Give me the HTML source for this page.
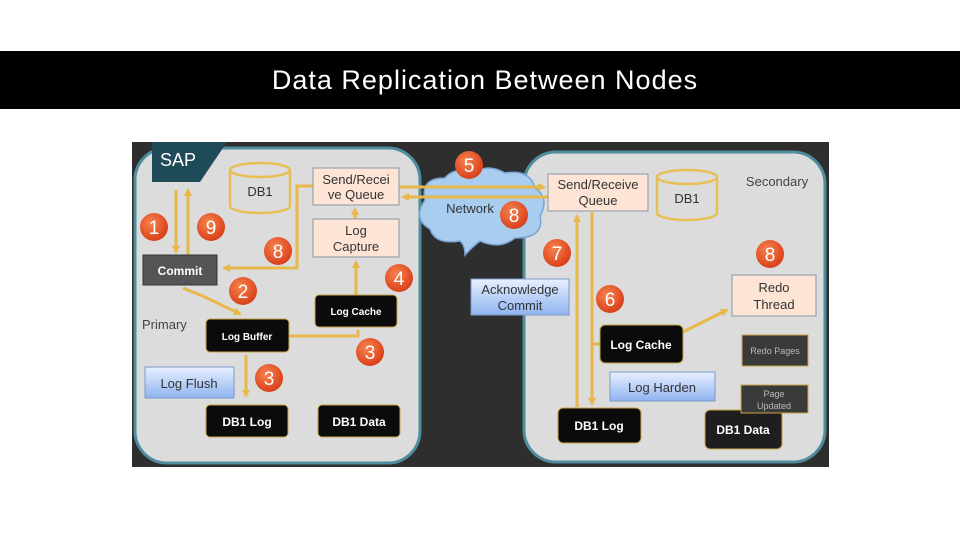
<!DOCTYPE html>
<html><head><meta charset="utf-8"><style>
body{margin:0;width:960px;height:540px;background:#fff;overflow:hidden;font-family:"Liberation Sans",sans-serif}
</style></head><body>
<svg width="960" height="540" xmlns="http://www.w3.org/2000/svg" style="position:absolute;left:0;top:0">
<defs>
<radialGradient id="o" cx="40%" cy="35%" r="65%"><stop offset="0" stop-color="#f7834f"/><stop offset="1" stop-color="#d9401b"/></radialGradient>
<linearGradient id="b" x1="0" y1="0" x2="0" y2="1"><stop offset="0" stop-color="#e8f0ff"/><stop offset="1" stop-color="#8fb4f0"/></linearGradient>
<marker id="a" markerWidth="8" markerHeight="8" refX="6" refY="4" orient="auto" markerUnits="userSpaceOnUse"><path d="M0,0 L8,4 L0,8 z" fill="#e8b84a"/></marker>
</defs>
<rect x="0" y="51" width="960" height="58" fill="#000"/>
<text x="485" y="89" fill="#fff" font-size="27" letter-spacing="1" text-anchor="middle">Data Replication Between Nodes</text>
<rect x="132" y="142" width="697" height="325" fill="#2e2e2e"/>
<rect x="135" y="148" width="285" height="315" rx="32" fill="#dcdcdc" stroke="#4f8c9c" stroke-width="3"/>
<rect x="524" y="152" width="301" height="310" rx="32" fill="#dcdcdc" stroke="#4f8c9c" stroke-width="3"/>
<polygon points="152,142 227,142 200,182 152,182" fill="#1f4a58"/>
<text x="160" y="166" fill="#fff" font-size="18">SAP</text>
<g fill="none" stroke="#e8bf55" stroke-width="2.5">
<path d="M230,170 v36 a30,7 0 0 0 60,0 v-36"/><ellipse cx="260" cy="170" rx="30" ry="7"/>
<path d="M657,177 v36 a30,7 0 0 0 60,0 v-36"/><ellipse cx="687" cy="177" rx="30" ry="7"/>
</g>
<text x="260" y="196" font-size="13" text-anchor="middle" fill="#333">DB1</text>
<text x="687" y="203" font-size="13" text-anchor="middle" fill="#333">DB1</text>
<path d="M425,200 q-5,-22 20,-22 q10,-12 28,-5 q15,-10 32,0 q25,-4 30,15 q15,10 5,28 q5,22 -25,22 q-15,12 -35,3 q-8,6 -15,14 q0,-10 -5,-14 q-25,4 -30,-12 q-18,-10 -5,-29z" fill="#a9cdef" stroke="#7aa6d4" stroke-width="1.5"/>
<text x="470" y="213" font-size="13" text-anchor="middle" fill="#333">Network</text>
<g stroke="#e8b84a" stroke-width="3" fill="none">
<line x1="176" y1="190" x2="176" y2="252" marker-end="url(#a)"/>
<line x1="188" y1="255" x2="188" y2="190" marker-end="url(#a)"/>
<polyline points="313,186 297,186 297,268 224,268" marker-end="url(#a)"/>
<polyline points="183,288 205,297 240,314" marker-end="url(#a)"/>
<polyline points="289,336 358,336 358,330"/>
<line x1="356" y1="295" x2="356" y2="262" marker-end="url(#a)"/>
<line x1="355" y1="219" x2="355" y2="209" marker-end="url(#a)"/>
<line x1="246" y1="355" x2="246" y2="396" marker-end="url(#a)"/>
<line x1="399" y1="187" x2="544" y2="187" marker-end="url(#a)"/>
<line x1="548" y1="197" x2="403" y2="197" marker-end="url(#a)"/>
<line x1="577" y1="407" x2="577" y2="216" marker-end="url(#a)"/>
<line x1="592" y1="212" x2="592" y2="404" marker-end="url(#a)"/>
<line x1="592" y1="344" x2="600" y2="344"/>
<line x1="683" y1="332" x2="727" y2="310" marker-end="url(#a)"/>
</g>
<g font-size="13" text-anchor="middle" fill="#333">
<rect x="313" y="168" width="86" height="37" fill="#fde4d4" stroke="#8899aa"/>
<text x="356" y="184">Send/Recei</text><text x="356" y="199">ve Queue</text>
<rect x="313" y="219" width="86" height="38" fill="#fde4d4" stroke="#8899aa"/>
<text x="356" y="235">Log</text><text x="356" y="251">Capture</text>
<rect x="548" y="174" width="100" height="37" fill="#fde4d4" stroke="#8899aa"/>
<text x="598" y="189">Send/Receive</text><text x="598" y="205">Queue</text>
<rect x="732" y="275" width="84" height="41" fill="#fde4d4" stroke="#8899aa"/>
<text x="774" y="292">Redo</text><text x="774" y="309">Thread</text>
<rect x="471" y="279" width="98" height="36" fill="url(#b)" stroke="#7a9ac8"/>
<text x="520" y="294">Acknowledge</text><text x="520" y="310">Commit</text>
<rect x="145" y="367" width="89" height="31" fill="url(#b)" stroke="#7a9ac8"/>
<text x="189" y="388">Log Flush</text>
<rect x="610" y="372" width="105" height="29" fill="url(#b)" stroke="#7a9ac8"/>
<text x="662" y="392">Log Harden</text>
<text x="142" y="329" text-anchor="start" fill="#444">Primary</text>
<text x="777" y="186" fill="#444">Secondary</text>
</g>
<g font-weight="bold" text-anchor="middle" fill="#fff" font-size="12">
<rect x="143" y="255" width="74" height="30" fill="#555" stroke="#333"/><text x="180" y="275">Commit</text>
<rect x="206" y="319" width="83" height="33" rx="4" fill="#0b0b0b" stroke="#c9a54a"/><text x="247" y="340" font-size="10">Log Buffer</text>
<rect x="315" y="295" width="82" height="32" rx="4" fill="#0b0b0b" stroke="#c9a54a"/><text x="356" y="315" font-size="10">Log Cache</text>
<rect x="206" y="405" width="82" height="32" rx="4" fill="#0b0b0b" stroke="#c9a54a"/><text x="247" y="426">DB1 Log</text>
<rect x="318" y="405" width="82" height="32" rx="4" fill="#0b0b0b" stroke="#c9a54a"/><text x="359" y="426">DB1 Data</text>
<rect x="600" y="325" width="83" height="38" rx="5" fill="#0b0b0b" stroke="#c9a54a"/><text x="641" y="349">Log Cache</text>
<rect x="558" y="408" width="83" height="35" rx="5" fill="#0b0b0b" stroke="#c9a54a"/><text x="599" y="430">DB1 Log</text>
<rect x="705" y="410" width="77" height="39" rx="5" fill="#1e1e1e" stroke="#c9a54a"/><text x="743" y="434">DB1 Data</text>
<rect x="742" y="335" width="66" height="31" fill="#3a3a3a" stroke="#c9a54a"/><text x="775" y="354" font-size="9" font-weight="normal" fill="#bbb">Redo Pages</text>
<rect x="741" y="385" width="67" height="28" fill="#3a3a3a" stroke="#c9a54a"/><text x="774" y="397" font-size="9" font-weight="normal" fill="#bbb">Page</text><text x="774" y="409" font-size="9" font-weight="normal" fill="#bbb">Updated</text>
</g>
<g font-size="19" text-anchor="middle" fill="#fff">
<circle cx="154" cy="227" r="14" fill="url(#o)"/><text x="154" y="234">1</text>
<circle cx="211" cy="227" r="14" fill="url(#o)"/><text x="211" y="234">9</text>
<circle cx="278" cy="251" r="14" fill="url(#o)"/><text x="278" y="258">8</text>
<circle cx="243" cy="291" r="14" fill="url(#o)"/><text x="243" y="298">2</text>
<circle cx="399" cy="278" r="14" fill="url(#o)"/><text x="399" y="285">4</text>
<circle cx="370" cy="352" r="14" fill="url(#o)"/><text x="370" y="359">3</text>
<circle cx="269" cy="378" r="14" fill="url(#o)"/><text x="269" y="385">3</text>
<circle cx="469" cy="165" r="14" fill="url(#o)"/><text x="469" y="172">5</text>
<circle cx="514" cy="215" r="14" fill="url(#o)"/><text x="514" y="222">8</text>
<circle cx="557" cy="253" r="14" fill="url(#o)"/><text x="557" y="260">7</text>
<circle cx="610" cy="299" r="14" fill="url(#o)"/><text x="610" y="306">6</text>
<circle cx="770" cy="254" r="14" fill="url(#o)"/><text x="770" y="261">8</text>
</g>
</svg>
</body></html>
